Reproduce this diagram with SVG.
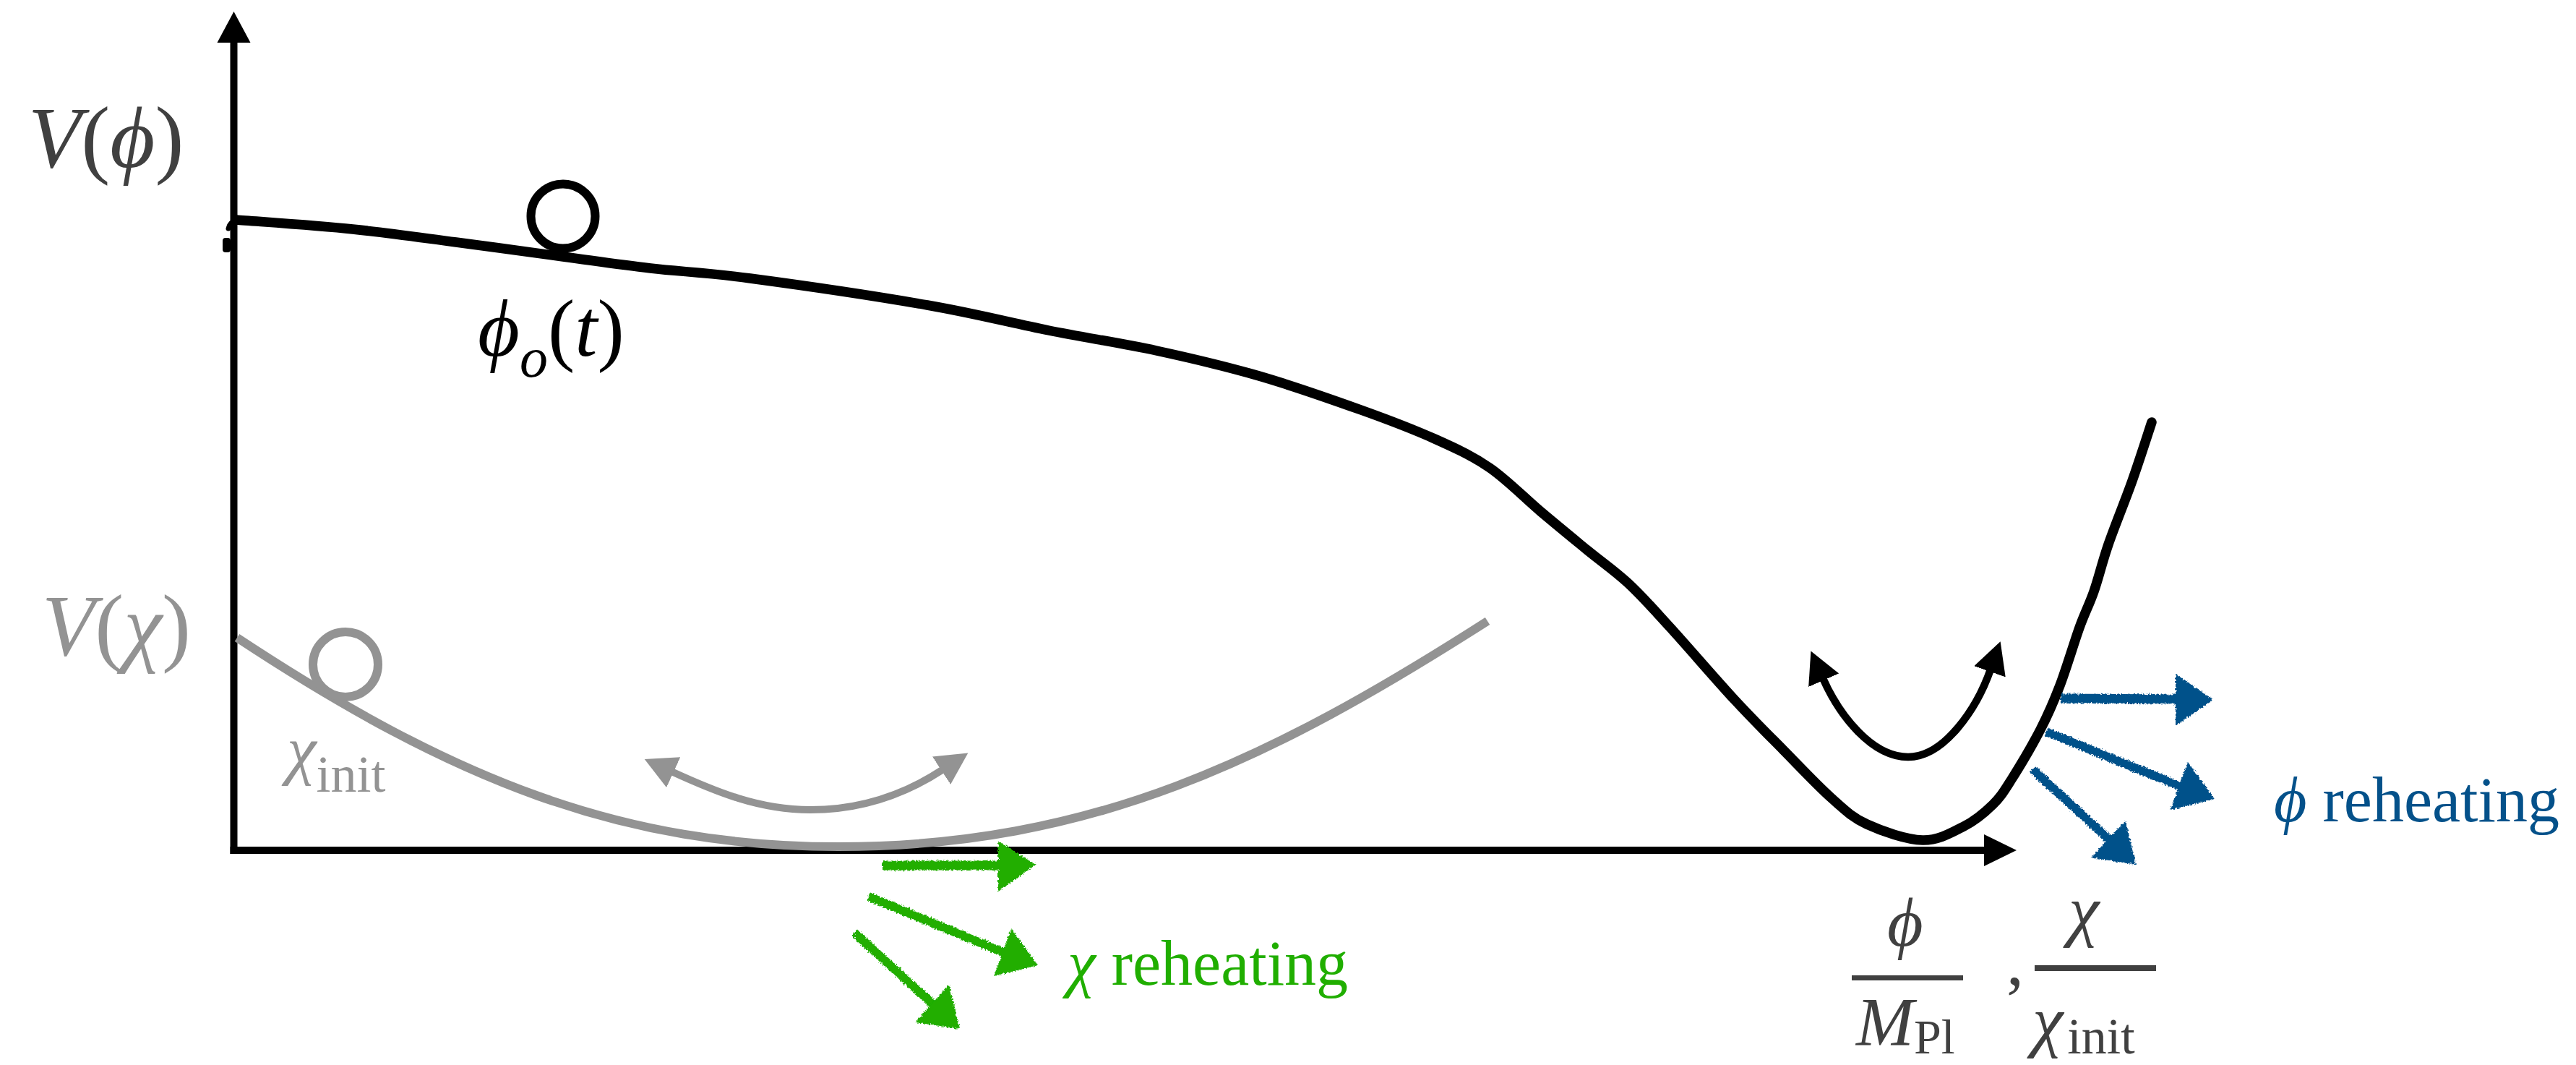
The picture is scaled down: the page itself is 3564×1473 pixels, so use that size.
<svg xmlns="http://www.w3.org/2000/svg" width="3564" height="1473" viewBox="0 0 3564 1473">
<style>
  .t { font-family: "Liberation Serif", "DejaVu Serif", serif; }
  .i { font-style: italic; }
  .dk { fill: #404040; }
  .gr { fill: #939393; }
  .blk { fill: #000000; }
  .grn { fill: #20ae00; }
  .blu { fill: #04518a; }
  .curveBlack { fill: none; stroke: #000; stroke-width: 13.5; stroke-linejoin: round; stroke-linecap: round; }
  .curveGray { fill: none; stroke: #939393; stroke-width: 12; }
  .ball { fill: none; stroke-width: 12; }
</style>
<defs>
  <marker id="headGray" viewBox="0 0 46 46" markerUnits="userSpaceOnUse" markerWidth="46" markerHeight="46" refX="3" refY="23" orient="auto-start-reverse">
    <path d="M0 0 L44 23 L0 46 Z" fill="#939393"/>
  </marker>
  <marker id="headBlack" viewBox="0 0 46 46" markerUnits="userSpaceOnUse" markerWidth="46" markerHeight="46" refX="3" refY="23" orient="auto-start-reverse">
    <path d="M0 0 L44 23 L0 46 Z" fill="#000"/>
  </marker>
  <filter id="crayon" filterUnits="userSpaceOnUse" x="0" y="0" width="3564" height="1473">
    <feTurbulence type="fractalNoise" baseFrequency="0.4" numOctaves="2" seed="7" result="n"/>
    <feDisplacementMap in="SourceGraphic" in2="n" scale="6" xChannelSelector="R" yChannelSelector="G"/>
  </filter>
</defs>
<rect width="3564" height="1473" fill="#ffffff"/>

<g id="axes">
  <line x1="323.5" y1="55" x2="323.5" y2="1181" stroke="#000" stroke-width="10"/>
  <polygon points="323.5,16 300.5,59 346.5,59" fill="#000"/>
  <line x1="318.5" y1="1176" x2="2750" y2="1176" stroke="#000" stroke-width="10"/>
  <polygon points="2790,1176 2745,1154 2745,1198" fill="#000"/>
  <path d="M 327 305 Q 318 307 316 316" fill="none" stroke="#000" stroke-width="7" stroke-linecap="round"/>
  <rect x="308" y="329" width="11" height="20" rx="4" fill="#000"/>
</g>

<g id="potential-chi">
  <path class="curveGray" d="M 328 882 C 628 1080, 860 1171, 1160 1171 C 1510 1171, 1758 1051, 2058 859"/>
  <circle class="ball" cx="478" cy="919" r="45" stroke="#939393"/>
  <path d="M 929 1067 C 990 1095, 1050 1120, 1121 1120 C 1190 1120, 1250 1100, 1305 1064" fill="none" stroke="#939393" stroke-width="10" marker-start="url(#headGray)" marker-end="url(#headGray)"/>
</g>

<g id="potential-phi">
  <path class="curveBlack" d="M 327 304 C 353.8 306.2, 437.3 311.8, 488 317 C 538.7 322.2, 582.5 328.7, 631 335 C 679.5 341.3, 734.2 349, 779 355 C 823.8 361, 856.8 366, 900 371 C 943.2 376, 974.2 376.5, 1038 385 C 1101.8 393.5, 1214.2 410, 1283 422 C 1351.8 434, 1398.2 446.5, 1451 457 C 1503.8 467.5, 1551.5 474.5, 1600 485 C 1648.5 495.5, 1694.8 506.3, 1742 520 C 1789.2 533.7, 1842.5 552.5, 1883 567 C 1923.5 581.5, 1955.3 593.7, 1985 607 C 2014.7 620.3, 2036.7 630.3, 2061 647 C 2085.3 663.7, 2108.7 688.2, 2131 707 C 2153.3 725.8, 2174.7 743.3, 2195 760 C 2215.3 776.7, 2233.8 789.2, 2253 807 C 2272.2 824.8, 2285.5 840.2, 2310 867 C 2334.5 893.8, 2373.8 939.7, 2400 968 C 2426.2 996.3, 2444.8 1014.5, 2467 1037 C 2489.2 1059.5, 2513.7 1085.8, 2533 1103 C 2552.3 1120.2, 2561.8 1130.2, 2583 1140 C 2604.2 1149.8, 2637.7 1161.5, 2660 1162 C 2682.3 1162.5, 2700.8 1151.2, 2717 1143 C 2733.2 1134.8, 2746 1123.8, 2757 1113 C 2768 1102.2, 2772 1095.3, 2783 1078 C 2794 1060.7, 2811.8 1030.7, 2823 1009 C 2834.2 987.3, 2841 971.5, 2850 948 C 2859 924.5, 2869.2 889.7, 2877 868 C 2884.8 846.3, 2890.3 837.2, 2897 818 C 2903.7 798.8, 2908.2 778.5, 2917 753 C 2925.8 727.5, 2940 693.2, 2950 665 C 2960 636.8, 2972.5 597.5, 2977 584"/>
  <circle class="ball" cx="779" cy="299" r="44.5" stroke="#000"/>
  <path d="M 2522 938 C 2545 990, 2590 1047, 2640 1047 C 2690 1047, 2735 980, 2754 926" fill="none" stroke="#000" stroke-width="10.5" marker-start="url(#headBlack)" marker-end="url(#headBlack)"/>
</g>

<g id="chi-reheating-arrows" filter="url(#crayon)" fill="#20ae00" stroke="#20ae00">
  <line x1="1221" y1="1197" x2="1385" y2="1197" stroke-width="13"/>
  <polygon points="1381,1163 1433,1196 1381,1233" stroke="none"/>
  <line x1="1202" y1="1240" x2="1390" y2="1318" stroke-width="12"/>
  <polygon points="1399,1284 1436,1335 1375,1350" stroke="none"/>
  <line x1="1182" y1="1290" x2="1292" y2="1390" stroke-width="12"/>
  <polygon points="1313,1362 1328,1423 1266,1414" stroke="none"/>
</g>

<g id="phi-reheating-arrows" filter="url(#crayon)" fill="#04518a" stroke="#04518a">
  <line x1="2851" y1="966" x2="3014" y2="967" stroke-width="13"/>
  <polygon points="3010,932 3062,968 3010,1004" stroke="none"/>
  <line x1="2831" y1="1012" x2="3018" y2="1088" stroke-width="12"/>
  <polygon points="3027,1054 3064,1105 3003,1120" stroke="none"/>
  <line x1="2812" y1="1064" x2="2919" y2="1162" stroke-width="12"/>
  <polygon points="2941,1135 2955,1196 2893,1186" stroke="none"/>
</g>

<g id="labels" class="t">
  <text id="label-vphi" class="dk" x="39" y="231" font-size="120"><tspan class="i">V</tspan>(<tspan class="i">ϕ</tspan>)</text>
  <text id="label-vchi" class="gr" x="58" y="906" font-size="120"><tspan class="i">V</tspan>(<tspan class="i">χ</tspan>)</text>
  <text id="label-phio" class="blk" x="661" y="492" font-size="112"><tspan class="i">ϕ</tspan><tspan class="i" font-size="78" dy="29">o</tspan><tspan dy="-29">(</tspan><tspan class="i">t</tspan>)</text>
  <text id="label-chiinit" class="gr" x="397" y="1068" font-size="92"><tspan class="i">χ</tspan><tspan font-size="72" dy="27">init</tspan></text>
  <text id="label-chi-reheating" class="grn" x="1477" y="1362" font-size="88"><tspan class="i">χ</tspan> reheating</text>
  <text id="label-phi-reheating" class="blu" x="3146" y="1136" font-size="88"><tspan class="i">ϕ</tspan> reheating</text>
  <g id="xlabel" class="dk">
    <text class="i" x="2611" y="1308" font-size="96">ϕ</text>
    <rect x="2562" y="1349" width="154" height="7"/>
    <text x="2568" y="1446" font-size="96"><tspan class="i">M</tspan><tspan font-size="68" dy="11">Pl</tspan></text>
    <text x="2776" y="1362" font-size="96">,</text>
    <text class="i" x="2862" y="1291" font-size="96">χ</text>
    <rect x="2815" y="1335" width="168" height="8"/>
    <text x="2812" y="1444" font-size="96"><tspan class="i">χ</tspan><tspan font-size="70" dy="13" dx="6">init</tspan></text>
  </g>
</g>
</svg>
